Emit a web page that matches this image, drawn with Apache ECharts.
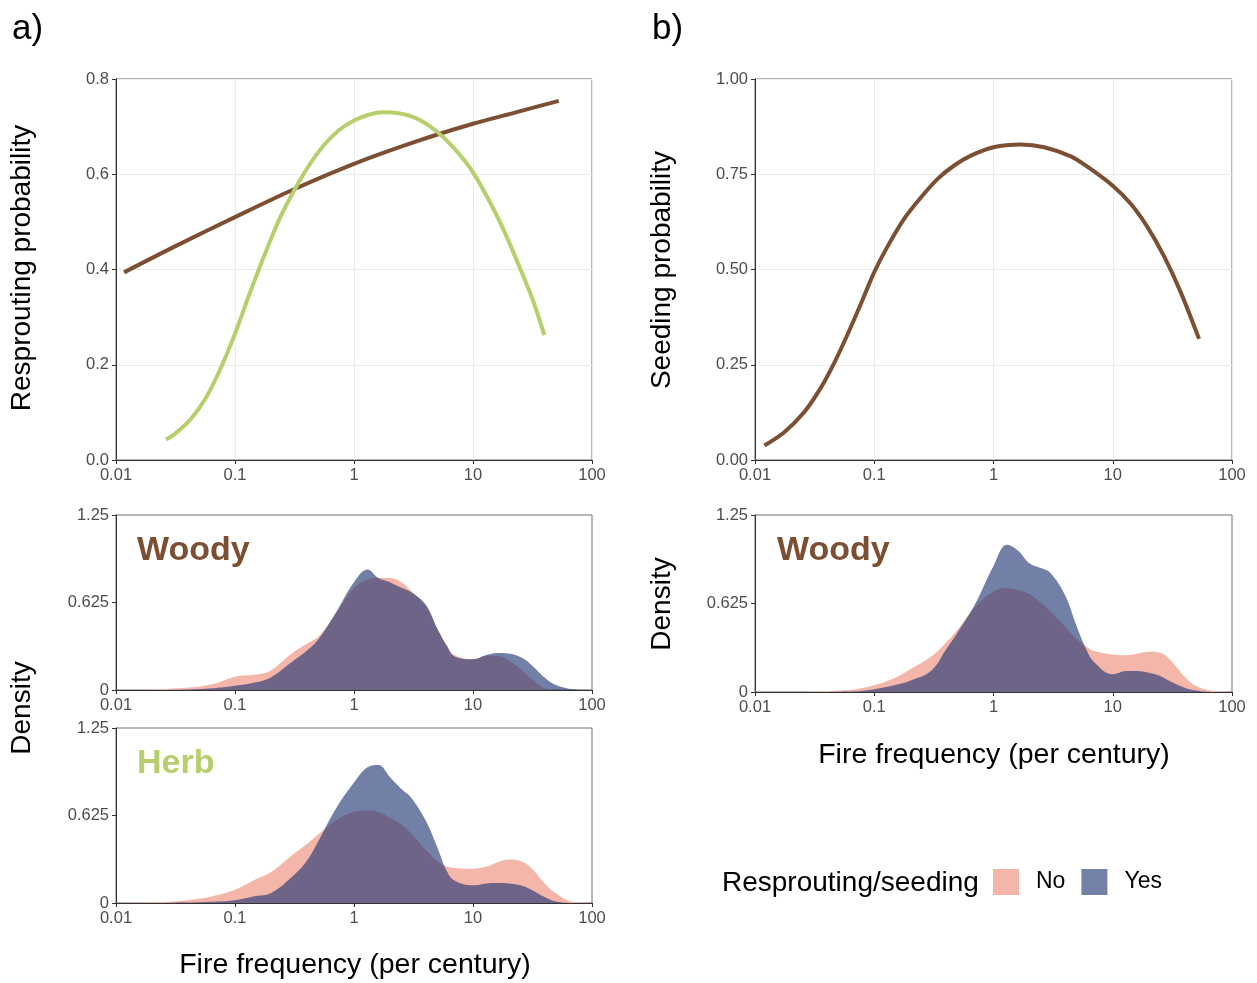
<!DOCTYPE html>
<html lang="en">
<head>
    <meta charset="UTF-8">
    <title>Fire frequency: resprouting and seeding</title>
    <script src="https://cdn.jsdelivr.net/npm/echarts@6/dist/echarts.min.js"></script>
    <style>
        body { margin: 0; background: #fff; }
    </style>
</head>
<body>
    <div id="chart" style="width: 1257px; height: 983px;"></div>
    <script>
        // x tick labels (log axis, 0.01 .. 100)
        const xTicks = ['0.01', '0.1', '1', '10', '100'];

        // fitted curves, top panels
        const woodyRespFreq = [0.0117, 0.0316, 0.1, 0.316, 1, 3.16, 10, 22.9, 52.5];
        const woodyRespProb = [0.394, 0.449, 0.51, 0.569, 0.622, 0.667, 0.706, 0.73, 0.754];

        const herbRespFreq = [0.0263, 0.0316, 0.0422, 0.0562, 0.075, 0.1, 0.133, 0.178, 0.237, 0.316, 0.422, 0.562, 0.75, 1, 1.33, 1.78, 2.37, 3.16, 4.22, 5.62, 7.5, 10, 13.3, 17.8, 23.7, 31.6, 39.8];
        const herbRespProb = [0.043, 0.056, 0.085, 0.128, 0.19, 0.265, 0.35, 0.432, 0.507, 0.567, 0.62, 0.662, 0.693, 0.713, 0.725, 0.73, 0.728, 0.72, 0.703, 0.678, 0.645, 0.604, 0.55, 0.487, 0.415, 0.338, 0.262];

        const woodySeedFreq = [0.012, 0.0176, 0.0259, 0.0357, 0.0462, 0.0598, 0.0773, 0.1, 0.129, 0.178, 0.246, 0.34, 0.468, 0.646, 1, 1.69, 2.66, 4.45, 6.13, 10, 14.2, 19.5, 26.9, 37.2, 52.9];
        const woodySeedProb = [0.038, 0.073, 0.126, 0.19, 0.255, 0.33, 0.41, 0.493, 0.56, 0.633, 0.689, 0.738, 0.773, 0.799, 0.821, 0.828, 0.821, 0.797, 0.77, 0.72, 0.672, 0.612, 0.535, 0.44, 0.318];

        // density panels, shared x grid
        const densFreq = [0.01, 0.02, 0.03, 0.05, 0.07, 0.1, 0.15, 0.2, 0.3, 0.4, 0.5, 0.7, 1, 1.3, 1.6, 2, 2.5, 3, 4, 5, 6, 7, 10, 13, 16, 20, 25, 30, 40, 50, 70, 100];
        const woodyRespNo  = [0, 0.002, 0.01, 0.025, 0.05, 0.095, 0.11, 0.14, 0.26, 0.33, 0.38, 0.54, 0.73, 0.79, 0.80, 0.80, 0.77, 0.71, 0.6, 0.44, 0.32, 0.25, 0.22, 0.245, 0.245, 0.21, 0.15, 0.09, 0.015, 0.002, 0, 0];
        const woodyRespYes = [0, 0, 0.002, 0.008, 0.015, 0.03, 0.055, 0.09, 0.2, 0.28, 0.36, 0.55, 0.77, 0.86, 0.80, 0.77, 0.73, 0.70, 0.61, 0.44, 0.32, 0.24, 0.22, 0.25, 0.265, 0.26, 0.235, 0.19, 0.09, 0.035, 0.005, 0];
        const herbRespNo   = [0, 0.003, 0.01, 0.03, 0.055, 0.095, 0.17, 0.22, 0.34, 0.42, 0.49, 0.59, 0.65, 0.66, 0.65, 0.61, 0.56, 0.5, 0.38, 0.3, 0.26, 0.25, 0.245, 0.26, 0.29, 0.31, 0.3, 0.26, 0.14, 0.067, 0.007, 0];
        const herbRespYes  = [0, 0, 0.002, 0.005, 0.01, 0.02, 0.05, 0.07, 0.185, 0.30, 0.44, 0.67, 0.86, 0.97, 0.985, 0.9, 0.815, 0.756, 0.59, 0.40, 0.23, 0.16, 0.126, 0.14, 0.143, 0.14, 0.126, 0.10, 0.043, 0.01, 0, 0];
        const woodySeedNo  = [0, 0, 0.002, 0.01, 0.02, 0.047, 0.1, 0.16, 0.25, 0.35, 0.44, 0.6, 0.71, 0.735, 0.72, 0.69, 0.63, 0.57, 0.46, 0.37, 0.32, 0.29, 0.265, 0.26, 0.27, 0.284, 0.277, 0.23, 0.11, 0.042, 0.007, 0];
        const woodySeedYes = [0, 0, 0, 0.002, 0.005, 0.02, 0.05, 0.08, 0.15, 0.3, 0.42, 0.62, 0.89, 1.04, 1.0, 0.91, 0.875, 0.84, 0.68, 0.46, 0.30, 0.21, 0.125, 0.148, 0.148, 0.136, 0.113, 0.077, 0.03, 0.01, 0, 0];

        const FONT = "'Liberation Sans', Arial, sans-serif";
        const brown = '#7c4f32';
        const green = '#b6cf6c';
        const pink = '#f3b6a8';
        const blueFill = 'rgba(27, 50, 114, 0.62)';
        const blueKey = '#7381a9';

        const zip = (xs, ys) => xs.map((x, i) => [x, ys[i]]);

        var myChart = echarts.init(document.getElementById('chart'));

        // panel boxes: [left, top, width, height]
        const boxes = [
            [116, 79, 476, 381],   // a) probability
            [116, 515, 476, 175],  // a) woody density
            [116, 728, 476, 175],  // a) herb density
            [755, 79, 477, 381],   // b) probability
            [755, 515, 477, 177]   // b) woody density
        ];
        const yMax = [0.8, 1.25, 1.25, 1, 1.25];
        const yStep = [0.2, 0.625, 0.625, 0.25, 0.625];
        const yFmt = [
            v => v.toFixed(1),
            v => (v === 0 ? '0' : String(v)),
            v => (v === 0 ? '0' : String(v)),
            v => v.toFixed(2),
            v => (v === 0 ? '0' : String(v))
        ];
        const hasGrid = [true, false, false, true, false];

        const grids = boxes.map(b => ({
            left: b[0], top: b[1], width: b[2], height: b[3],
            show: true, borderColor: '#6e6e6e', borderWidth: 1, backgroundColor: 'transparent'
        }));

        const xAxes = boxes.map((b, i) => ({
            type: 'log', logBase: 10, min: 0.01, max: 100, gridIndex: i,
            axisLine: { lineStyle: { color: '#333', width: 1 } },
            axisTick: { length: 4, lineStyle: { color: '#333' } },
            axisLabel: {
                color: '#4d4d4d', fontSize: 16.5, fontFamily: FONT, margin: 7,
                formatter: v => xTicks[Math.round(Math.log10(v)) + 2]
            },
            splitLine: { show: hasGrid[i], lineStyle: { color: '#ebebeb', width: 1 } },
            minorTick: { show: false }
        }));

        const yAxes = boxes.map((b, i) => ({
            type: 'value', min: 0, max: yMax[i], interval: yStep[i], gridIndex: i,
            axisLine: { show: true, lineStyle: { color: '#333', width: 1 } },
            axisTick: { show: true, length: 4, lineStyle: { color: '#333' } },
            axisLabel: { color: '#4d4d4d', fontSize: 16.5, fontFamily: FONT, margin: 7, formatter: yFmt[i] },
            splitLine: { show: hasGrid[i], lineStyle: { color: '#ebebeb', width: 1 } }
        }));

        function curve(name, xs, ys, idx, color) {
            return {
                name: name, type: 'line', xAxisIndex: idx, yAxisIndex: idx,
                data: zip(xs, ys), smooth: 0.3, showSymbol: false, silent: true,
                lineStyle: { color: color, width: 4 }, z: 3
            };
        }
        function dens(name, ys, idx) {
            const isYes = name === 'Yes';
            return {
                name: name, type: 'line', xAxisIndex: idx, yAxisIndex: idx,
                data: zip(densFreq, ys), smooth: 0.4, showSymbol: false, silent: true,
                itemStyle: { color: isYes ? blueKey : pink },
                lineStyle: { width: 0 },
                areaStyle: { color: isYes ? blueFill : pink, opacity: 1 },
                z: isYes ? 3 : 2
            };
        }

        const series = [
            curve('woodyResp', woodyRespFreq, woodyRespProb, 0, brown),
            curve('herbResp', herbRespFreq, herbRespProb, 0, green),
            curve('woodySeed', woodySeedFreq, woodySeedProb, 3, brown),
            dens('No', woodyRespNo, 1), dens('Yes', woodyRespYes, 1),
            dens('No', herbRespNo, 2), dens('Yes', herbRespYes, 2),
            dens('No', woodySeedNo, 4), dens('Yes', woodySeedYes, 4)
        ];

        function txt(str, x, y, size, opts) {
            opts = opts || {};
            return {
                type: 'text', x: x, y: y, rotation: opts.rot || 0, z: 10,
                style: {
                    text: str, fontSize: size, fontFamily: FONT,
                    fontWeight: opts.bold ? 'bold' : 'normal',
                    fill: opts.color || '#000',
                    textAlign: opts.align || 'center', textVerticalAlign: 'middle'
                }
            };
        }

        const option = {
            animation: false,
            grid: grids,
            xAxis: xAxes,
            yAxis: yAxes,
            legend: {
                left: 988, top: 864, itemWidth: 26, itemHeight: 26, itemGap: 16,
                icon: 'rect', selectedMode: false,
                textStyle: { fontSize: 23, fontFamily: FONT, color: '#000', padding: [4, 0, 0, 12] },
                data: [
                    { name: 'No', itemStyle: { color: pink } },
                    { name: 'Yes', itemStyle: { color: blueKey } }
                ]
            },
            graphic: [
                txt('a)', 12, 29, 35, { align: 'left' }),
                txt('b)', 652, 29, 35, { align: 'left' }),
                txt('Resprouting probability', 22, 268, 28, { rot: Math.PI / 2 }),
                txt('Seeding probability', 662, 270, 28, { rot: Math.PI / 2 }),
                txt('Density', 22, 708, 28, { rot: Math.PI / 2 }),
                txt('Density', 662, 604, 28, { rot: Math.PI / 2 }),
                txt('Fire frequency (per century)', 355, 965, 28.5),
                txt('Fire frequency (per century)', 994, 755, 28.5),
                txt('Woody', 137, 551, 34, { align: 'left', bold: true, color: brown }),
                txt('Herb', 137, 764, 34, { align: 'left', bold: true, color: green }),
                txt('Woody', 777, 551, 34, { align: 'left', bold: true, color: brown }),
                txt('Resprouting/seeding', 722, 883, 28, { align: 'left' })
            ],
            series: series
        };

        myChart.setOption(option);
    </script>
</body>
</html>
